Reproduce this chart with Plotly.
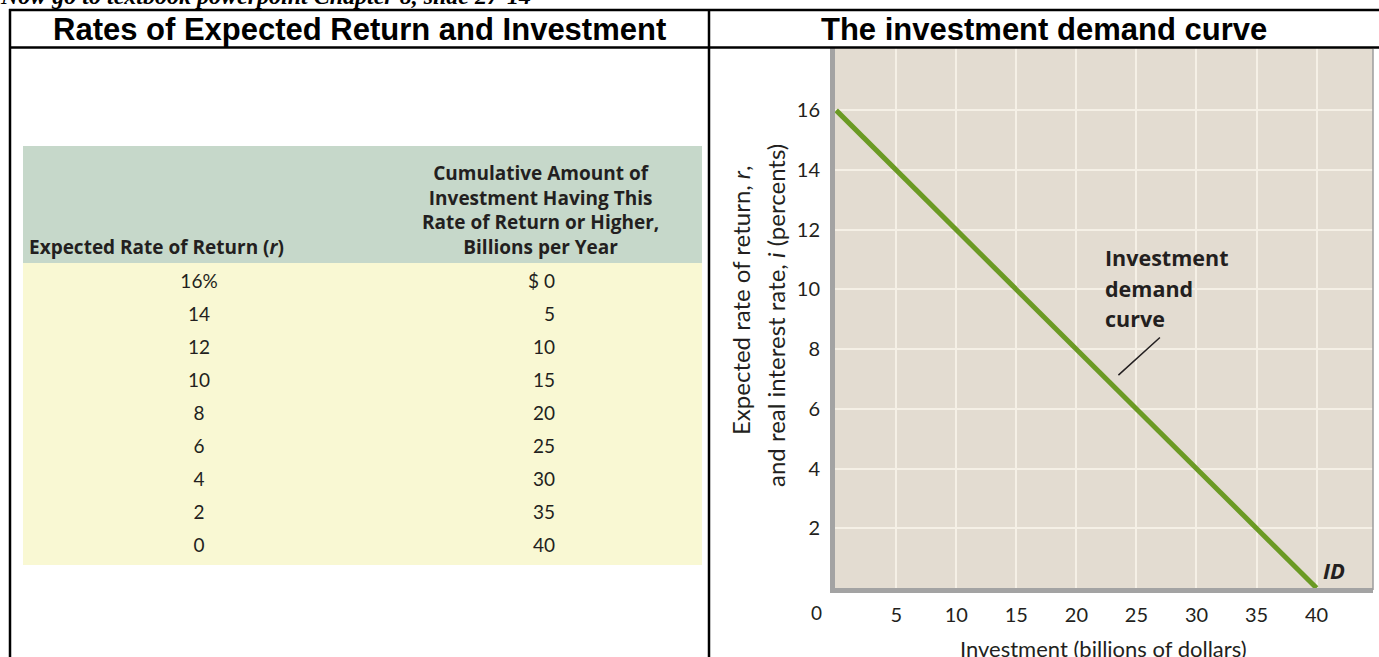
import plotly.graph_objects as go

W, H = 1379, 657

# ---------------- data ----------------
rates = [16, 14, 12, 10, 8, 6, 4, 2, 0]                 # expected rate of return (%)
investment = [0, 5, 10, 15, 20, 25, 30, 35, 40]        # cumulative investment, billions
rate_labels = ["16%", "14", "12", "10", "8", "6", "4", "2", "0"]
inv_labels = ["$ 0", "5", "10", "15", "20", "25", "30", "35", "40"]
x_ticks = [5, 10, 15, 20, 25, 30, 35, 40]
y_ticks = [2, 4, 6, 8, 10, 12, 14, 16]
col1_header = "Expected Rate of Return (<i>r</i>)"
col2_header = ["Cumulative Amount of", "Investment Having This",
               "Rate of Return or Higher,", "Billions per Year"]
curve_label = ["Investment", "demand", "curve"]


def px(x):
    return x / W


def py(y):
    return 1 - y / H


REG = "Lato, 'Open Sans', sans-serif"
BOLD = "'Open Sans', Lato, sans-serif"
TXT = "#231f20"

fig = go.Figure()

# ---------------- investment demand curve ----------------
fig.add_trace(go.Scatter(
    x=investment, y=rates, mode="lines",
    line=dict(color="#6b9a24", width=5),
    xaxis="x", yaxis="y", hoverinfo="skip", showlegend=False,
))

# ---------------- table body (text cells) ----------------
row_idx = list(range(len(rates)))
fig.add_trace(go.Scatter(
    x=[199] * len(rate_labels), y=row_idx, mode="text", text=rate_labels,
    textposition="middle center",
    textfont=dict(family=REG, size=19, color=TXT),
    xaxis="x2", yaxis="y2", hoverinfo="skip", showlegend=False,
))
fig.add_trace(go.Scatter(
    x=[555] * len(inv_labels), y=row_idx, mode="text", text=inv_labels,
    textposition="middle left",
    textfont=dict(family=REG, size=19, color=TXT),
    xaxis="x2", yaxis="y2", hoverinfo="skip", showlegend=False,
))

shapes = []
# table backgrounds
shapes.append(dict(type="rect", xref="paper", yref="paper",
                   x0=px(23), x1=px(702), y0=py(263), y1=py(146),
                   fillcolor="#c6d8ca", line=dict(width=0), layer="below"))
shapes.append(dict(type="rect", xref="paper", yref="paper",
                   x0=px(23), x1=px(702), y0=py(565), y1=py(263),
                   fillcolor="#f9f8d3", line=dict(width=0), layer="below"))
# frame lines
black = dict(color="black", width=2.5)
shapes.append(dict(type="line", xref="paper", yref="paper",
                   x0=px(9), x1=1, y0=py(10), y1=py(10), line=black))
shapes.append(dict(type="line", xref="paper", yref="paper",
                   x0=px(9), x1=1, y0=py(47.5), y1=py(47.5), line=black))
shapes.append(dict(type="line", xref="paper", yref="paper",
                   x0=px(10), x1=px(10), y0=0, y1=py(9), line=black))
shapes.append(dict(type="line", xref="paper", yref="paper",
                   x0=px(709), x1=px(709), y0=0, y1=py(9), line=black))
# right border of plot
shapes.append(dict(type="line", xref="paper", yref="paper",
                   x0=px(1373), x1=px(1373), y0=py(590), y1=py(49),
                   line=dict(color="#9c9c9c", width=1.5)))

annotations = []
# top, cut-off note
annotations.append(dict(
    text="<b><i>Now go to textbook powerpoint Chapter 8, slide 27-14</i></b>",
    xref="paper", yref="paper", x=px(-2), y=py(-4), xanchor="left", yanchor="middle",
    showarrow=False, font=dict(family="Liberation Serif, serif", size=24, color="black")))
# panel titles
annotations.append(dict(
    text="<b>Rates of Expected Return and Investment</b>",
    xref="paper", yref="paper", x=px(360), y=py(29), xanchor="center", yanchor="middle",
    showarrow=False, font=dict(family="Liberation Sans, Arial, sans-serif", size=31, color="black")))
annotations.append(dict(
    text="<b>The investment demand curve</b>",
    xref="paper", yref="paper", x=px(1044), y=py(29), xanchor="center", yanchor="middle",
    showarrow=False, font=dict(family="Liberation Sans, Arial, sans-serif", size=31, color="black")))
# table header
annotations.append(dict(
    text="<b>" + col1_header + "</b>",
    xref="paper", yref="paper", x=px(156), y=py(247), xanchor="center", yanchor="middle",
    showarrow=False, font=dict(family=BOLD, size=19, color=TXT)))
annotations.append(dict(
    text="<br>".join("<b>" + line + "</b>" for line in col2_header),
    xref="paper", yref="paper", x=px(540), y=py(210), xanchor="center", yanchor="middle",
    align="center", showarrow=False, font=dict(family=BOLD, size=19, color=TXT)))
# origin label
annotations.append(dict(
    text="0", xref="paper", yref="paper", x=px(816), y=py(612),
    xanchor="center", yanchor="middle", showarrow=False,
    font=dict(family=REG, size=19, color=TXT)))
# y-axis title (two lines)
annotations.append(dict(
    text="Expected rate of return, <i>r</i>,", xref="paper", yref="paper",
    x=px(740), y=py(300), xanchor="center", yanchor="middle", textangle=-90,
    showarrow=False, font=dict(family=REG, size=24, color=TXT)))
annotations.append(dict(
    text="and real interest rate, <i>i</i> (percents)", xref="paper", yref="paper",
    x=px(775), y=py(316), xanchor="center", yanchor="middle", textangle=-90,
    showarrow=False, font=dict(family=REG, size=24, color=TXT)))
# x-axis title
annotations.append(dict(
    text="Investment (billions of dollars)", xref="paper", yref="paper",
    x=px(1103), y=py(648), xanchor="center", yanchor="middle",
    showarrow=False, font=dict(family=REG, size=22, color=TXT)))
# curve label
for i, line in enumerate(curve_label):
    annotations.append(dict(
        text="<b>" + line + "</b>", xref="paper", yref="paper",
        x=px(1103), y=py(257 + 31 * i), xanchor="left", yanchor="middle",
        showarrow=False, font=dict(family=BOLD, size=21.5, color=TXT)))
# leader line
annotations.append(dict(
    text="", x=23.5, y=7.13, xref="x", yref="y", ax=43, ay=-39,
    showarrow=True, arrowhead=0, arrowwidth=1.5, arrowcolor=TXT))
# ID label
annotations.append(dict(
    text="<b><i>ID</i></b>", x=41.45, y=0.6, xref="x", yref="y",
    xanchor="center", yanchor="middle", showarrow=False,
    font=dict(family=BOLD, size=22, color=TXT)))

fig.update_layout(
    width=W, height=H,
    margin=dict(l=0, r=0, t=0, b=0),
    paper_bgcolor="white",
    plot_bgcolor="#e3dcd1",
    showlegend=False,
    shapes=shapes,
    annotations=annotations,
    xaxis=dict(
        domain=[px(835), px(1373)], range=[-0.1, 44.7],
        tickvals=x_ticks, ticks="", showgrid=True, gridcolor="#f5f0e6", gridwidth=2,
        zeroline=False, showline=True, linecolor="#a3a3a3", linewidth=5,
        tickfont=dict(family=REG, size=20, color=TXT), fixedrange=True,
        ticklabelstandoff=5,
    ),
    yaxis=dict(
        domain=[py(588), py(48)], range=[0, 18.09],
        tickvals=y_ticks, ticks="", showgrid=True, gridcolor="#f5f0e6", gridwidth=2,
        zeroline=False, showline=True, linecolor="#a3a3a3", linewidth=5,
        tickfont=dict(family=REG, size=20, color=TXT), fixedrange=True,
        ticklabelstandoff=6,
    ),
    xaxis2=dict(
        domain=[px(23), px(702)], range=[23, 702], visible=False, fixedrange=True,
        anchor="y2",
    ),
    yaxis2=dict(
        domain=[py(565), py(263)], range=[8.545, -0.606], visible=False, fixedrange=True,
        anchor="x2",
    ),
)

fig.write_html(
    "out.html",
    config={"displayModeBar": False, "staticPlot": True},
    post_script="document.body.style.margin='0px';document.body.style.overflow='hidden';",
)
